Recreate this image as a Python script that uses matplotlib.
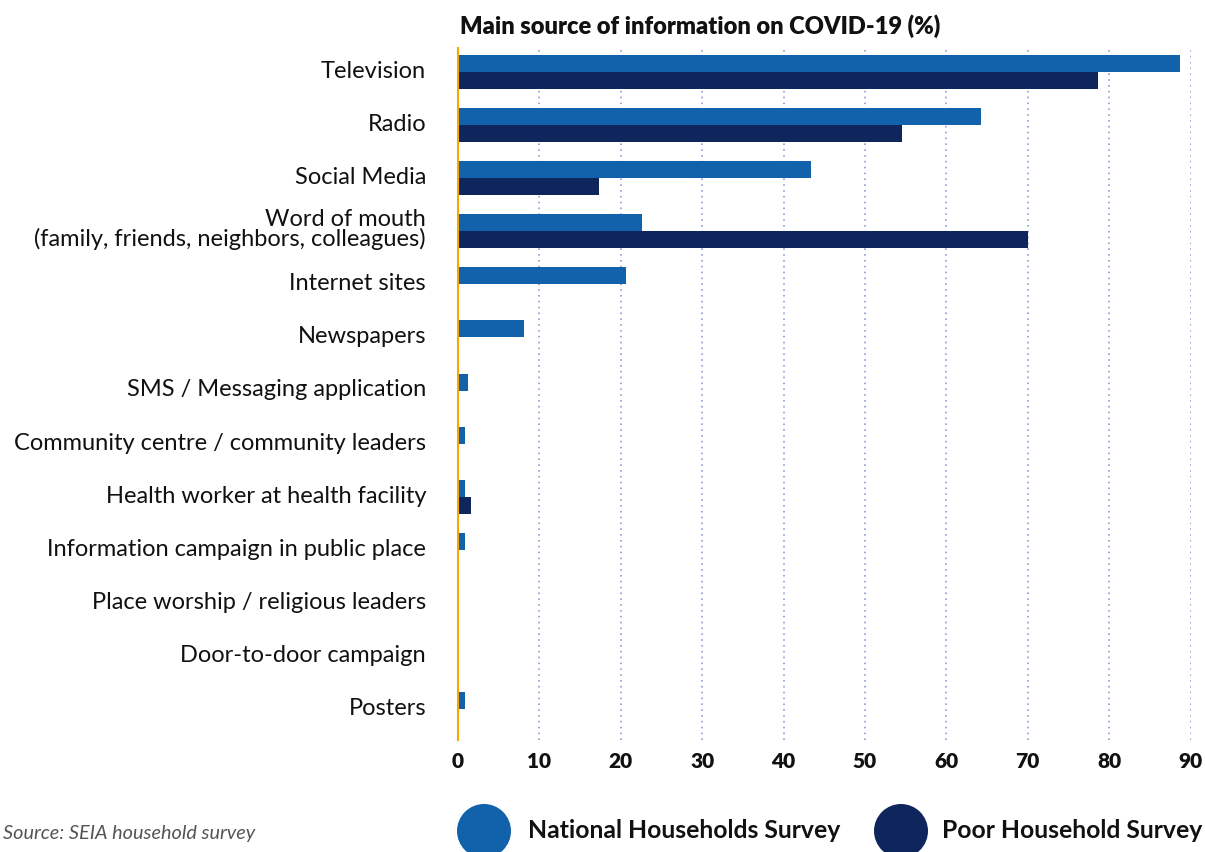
import matplotlib
matplotlib.use("Agg")
import matplotlib.pyplot as plt
import matplotlib.transforms as mtransforms
from matplotlib.patches import Ellipse
import numpy as np

# ---- data ----
categories = [
    "Television",
    "Radio",
    "Social Media",
    "Word of mouth\n(family, friends, neighbors, colleagues)",
    "Internet sites",
    "Newspapers",
    "SMS / Messaging application",
    "Community centre / community leaders",
    "Health worker at health facility",
    "Information campaign in public place",
    "Place worship / religious leaders",
    "Door-to-door campaign",
    "Posters",
]
national = [88.7, 64.2, 43.4, 22.6, 20.7, 8.1, 1.2, 0.8, 0.8, 0.8, 0.0, 0.0, 0.8]
poor = [78.6, 54.5, 17.3, 70.0, 0.0, 0.0, 0.0, 0.0, 1.6, 0.0, 0.0, 0.0, 0.0]
xticks = [0, 10, 20, 30, 40, 50, 60, 70, 80, 90]
series_names = ["National Households Survey", "Poor Household Survey"]
title = "Main source of information on COVID-19 (%)"
source = "Source: SEIA household survey"

# ---- style ----
C_NAT = "#1261ab"
C_POOR = "#0f265c"
C_AXIS = "#f5a800"
C_GRID = "#8c9ed8"
FONT = "Lato"

W, H = 1205, 852
plt.rcParams["font.family"] = [FONT, "DejaVu Sans"]
fig = plt.figure(figsize=(W / 100, H / 100), dpi=100)

def fx(px):
    return px / W

def fy(py):
    return 1 - py / H

left, right, top, bottom = 458, 1190.5, 48, 740
ax = fig.add_axes([fx(left), fy(bottom), fx(right) - fx(left), fy(top) - fy(bottom)])

n = len(categories)
y = np.arange(n)
bh = 0.32
ax.barh(y - bh / 2, national, height=bh, color=C_NAT, zorder=3, label=series_names[0])
ax.barh(y + bh / 2, poor, height=bh, color=C_POOR, zorder=3, label=series_names[1])

# y range: centre of first category at pixel 72, spacing ~53.08 px
sp = (709 - 72) / 12
ax.set_ylim((bottom - 72) / sp, (top - 72) / sp)
ax.set_xlim(0, 90)

ax.set_yticks(y)
ax.set_yticklabels(categories, fontsize=17, color="#111111", linespacing=0.88)
ax.set_xticks(xticks)
ax.set_xticklabels([str(t) for t in xticks], fontsize=15, fontweight="heavy", color="#111111")
ax.tick_params(axis="y", length=0, pad=23)
ax.tick_params(axis="x", length=0, pad=9)
shift = mtransforms.ScaledTranslation(0, 2.5 / 100, fig.dpi_scale_trans)
for lab in ax.get_yticklabels():
    lab.set_transform(lab.get_transform() + shift)

for s in ["top", "right", "bottom"]:
    ax.spines[s].set_visible(False)
ax.spines["left"].set_color(C_AXIS)
ax.spines["left"].set_linewidth(1.5)
ax.spines["left"].set_zorder(4)

ax.xaxis.grid(True, linestyle=(0, (1, 2.5)), color=C_GRID, linewidth=1.2, zorder=0)
ax.yaxis.grid(False)
ax.set_axisbelow(True)

fig.text(fx(460), fy(26), title, fontsize=17, fontweight="heavy", color="#111111",
         ha="left", va="center")

fig.text(fx(3), fy(833), source, fontsize=14.3, style="italic", color="#555555",
         ha="left", va="center")

# legend: large round markers
for cx, color, tx, name in [(484, C_NAT, 528, series_names[0]), (901, C_POOR, 942, series_names[1])]:
    e = Ellipse((fx(cx), fy(831)), width=54 / W, height=54 / H, transform=fig.transFigure,
                facecolor=color, edgecolor="none")
    fig.add_artist(e)
    fig.text(fx(tx), fy(831), name, fontsize=17.8, fontweight="bold", color="#111111",
             ha="left", va="center")

fig.savefig("out.png", dpi=100)
